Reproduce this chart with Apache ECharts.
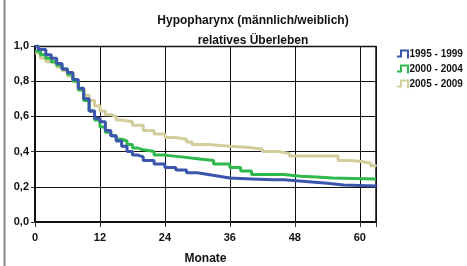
<!DOCTYPE html>
<html><head>
<meta charset="utf-8">
<title>Hypopharynx</title>
<script src="https://cdn.jsdelivr.net/npm/echarts@6/dist/echarts.min.js"></script>
<style>
html,body{margin:0;padding:0;background:#fff;}
#main{width:467px;height:266px;}
</style>
</head>
<body>
<div id="main"></div>
<script type="text/javascript">
// Monate / relatives Überleben
var s1995 = [[0,1.0],[0.6,0.98],[2,0.95],[3,0.93],[4,0.90],[5,0.87],[6,0.85],[7,0.81],[8,0.76],[9,0.70],[10,0.63],[11,0.59],[12,0.57],[13,0.52],[14,0.49],[15,0.46],[16,0.43],[17,0.40],[18,0.38],[19,0.37],[20,0.35],[22,0.33],[24,0.31],[26,0.295],[28,0.28],[30,0.27],[32,0.26],[34,0.25],[36,0.245],[40,0.24],[44,0.24],[46,0.23],[50,0.22],[54,0.21],[57,0.205],[63,0.20]];
var s2000 = [[0,0.97],[1,0.95],[2,0.93],[3,0.91],[4,0.89],[5,0.87],[6,0.84],[7,0.80],[8,0.75],[9,0.69],[10,0.63],[11,0.58],[12,0.54],[13,0.51],[14,0.49],[15,0.47],[16,0.46],[17,0.44],[18,0.42],[19,0.41],[20,0.40],[22,0.38],[24,0.37],[27,0.36],[30,0.35],[33,0.33],[36,0.31],[38,0.29],[40,0.27],[44,0.27],[46,0.26],[49,0.255],[52,0.25],[55,0.245],[63,0.245]];
var s2005 = [[0,0.96],[1,0.93],[2,0.91],[3,0.90],[4,0.88],[5,0.86],[6,0.83],[7,0.80],[8,0.76],[9,0.72],[10,0.69],[11,0.66],[12,0.63],[13,0.61],[14,0.60],[15,0.58],[16,0.57],[18,0.55],[20,0.52],[22,0.50],[24,0.48],[26,0.47],[28,0.455],[29,0.44],[32,0.43],[36,0.425],[39,0.415],[42,0.40],[45,0.39],[47,0.375],[53,0.375],[56,0.35],[58,0.345],[60,0.335],[62,0.32],[63,0.315]];
var seriesNames = ['1995 - 1999','2000 - 2004','2005 - 2009'];
var seriesColors = ['#3b55ac','#2fb84b','#d3cd9c'];
var xTicks = [0, 12, 24, 36, 48, 60];

var myChart = echarts.init(document.getElementById('main'));
// kleines Treppen-Symbol wie im Original
var stepIcon = 'path://M0,6 L3,6 L3,0 L12,0 L12,9 L10,9 L10,2 L5,2 L5,8 L0,8 Z';
var fnt = 'Liberation Sans, Arial, sans-serif';

var option = {
    animation: false,
    title: [
        { text: 'Hypopharynx (männlich/weiblich)', left: 248, top: 10, textAlign: 'center',
          textStyle: { fontFamily: fnt, fontSize: 12, fontWeight: 'bold', color: '#111' } },
        { text: 'relatives Überleben', left: 248, top: 30, textAlign: 'center',
          textStyle: { fontFamily: fnt, fontSize: 12, fontWeight: 'bold', color: '#111' } }
    ],
    legend: {
        orient: 'vertical',
        left: 397, top: 49, padding: 0,
        itemWidth: 13, itemHeight: 9, itemGap: 5,
        icon: stepIcon,
        data: seriesNames,
        textStyle: { fontFamily: fnt, fontSize: 10, fontWeight: 'bold', color: '#111', padding: [0,0,0,-5], overflow: 'none' }
    },
    grid: { left: 35, right: 91, top: 46, bottom: 44, outerBoundsMode: 'none' },
    xAxis: {
        type: 'value', min: 0, max: 63, interval: 12,
        name: 'Monate', nameLocation: 'middle', nameGap: 31,
        nameTextStyle: { fontFamily: fnt, fontSize: 12, fontWeight: 'bold', color: '#111' },
        axisLine: { lineStyle: { color: '#111', width: 2 } },
        axisTick: { show: true, length: 5, lineStyle: { color: '#333' } },
        axisLabel: { fontFamily: fnt, fontSize: 11, fontWeight: 'bold', color: '#111', margin: 10,
            formatter: function (v) { return xTicks.indexOf(v) >= 0 ? String(v) : ''; } },
        splitLine: { show: true, lineStyle: { color: '#111', width: 1 } }
    },
    yAxis: {
        type: 'value', min: 0, max: 1, interval: 0.2,
        axisLine: { show: true, lineStyle: { color: '#111', width: 2 } },
        axisTick: { show: true, length: 4, lineStyle: { color: '#333' } },
        axisLabel: { fontFamily: fnt, fontSize: 11, fontWeight: 'bold', color: '#111', margin: 6,
            formatter: function (v) { return v.toFixed(1).replace('.', ','); } },
        splitLine: { show: true, lineStyle: { color: '#111', width: 1 } }
    },
    graphic: [
        { type: 'line', shape: { x1: 4.5, y1: 0, x2: 4.5, y2: 266 }, style: { stroke: '#888', lineWidth: 2 } },
        { type: 'line', shape: { x1: 35, y1: 46.5, x2: 376, y2: 46.5 }, style: { stroke: '#111', lineWidth: 1.5 } },
        { type: 'line', shape: { x1: 376, y1: 46, x2: 376, y2: 222 }, style: { stroke: '#111', lineWidth: 1.5 } }
    ],
    series: [
        { name: seriesNames[0], type: 'line', step: 'end', data: s1995, showSymbol: false, z: 5,
          lineStyle: { width: 3, color: seriesColors[0] }, itemStyle: { color: seriesColors[0] } },
        { name: seriesNames[1], type: 'line', step: 'end', data: s2000, showSymbol: false, z: 4,
          lineStyle: { width: 3, color: seriesColors[1] }, itemStyle: { color: seriesColors[1] } },
        { name: seriesNames[2], type: 'line', step: 'end', data: s2005, showSymbol: false, z: 3,
          lineStyle: { width: 3, color: seriesColors[2] }, itemStyle: { color: seriesColors[2] } }
    ]
};
myChart.setOption(option);
</script>
</body>
</html>
